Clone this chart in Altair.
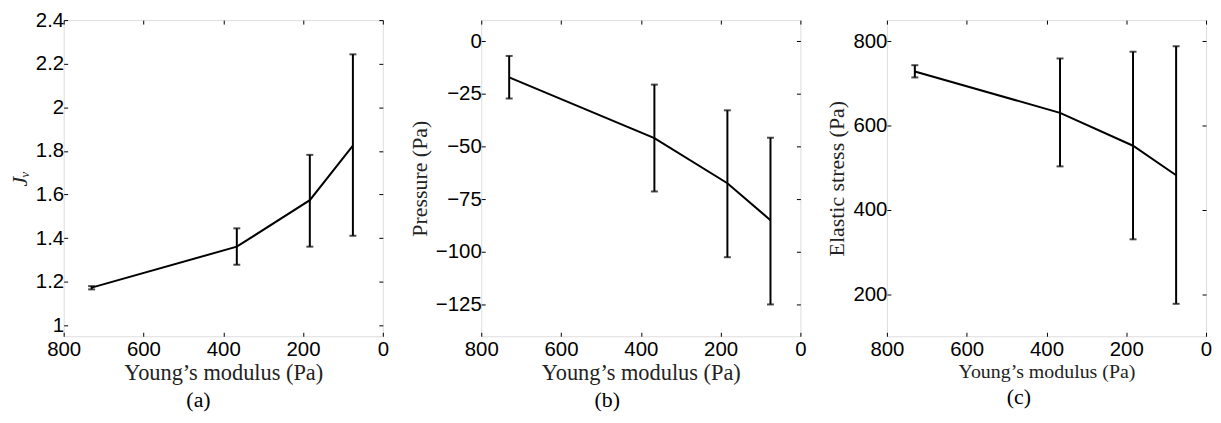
import altair as alt
import pandas as pd

# Young's modulus (Pa)
young = [730, 366, 183, 75]

# (a) J_V
jv_mean = [1.173, 1.361, 1.574, 1.824]
jv_lo = [1.165, 1.278, 1.361, 1.411]
jv_hi = [1.180, 1.445, 1.782, 2.243]

# (b) Pressure (Pa)
p_mean = [-17.2, -46.0, -67.4, -84.9]
p_lo = [-27.2, -71.3, -102.5, -124.9]
p_hi = [-7.0, -20.6, -32.8, -45.8]

# (c) Elastic stress (Pa)
s_mean = [728, 630, 552, 482]
s_lo = [714, 503, 330, 177]
s_hi = [743, 759, 775, 788]

x_ticks = [0, 200, 400, 600, 800]

LABEL_FONT = "Liberation Sans"
SERIF = "Liberation Serif"
TK = 4  # inward tick length
LFS = 20.5


def panel(mean, lo, hi, ydomain, yticks, ytitle, caption, xtitle_size=22.5, yfmt="d",
          ytitle_style="normal"):
    df = pd.DataFrame({"x": young, "m": mean, "lo": lo, "hi": hi})
    base = alt.Chart(df)
    xs = alt.Scale(domain=[0, 800], reverse=True, nice=False, zero=False)
    ys = alt.Scale(domain=ydomain, nice=False, zero=False)

    line = base.mark_line(color="black", strokeWidth=2).encode(
        x=alt.X("x:Q", scale=xs, axis=alt.Axis(
            orient="bottom", values=x_ticks, offset=-TK, tickSize=TK, domain=False,
            grid=False, labelPadding=3, labelFlush=False,
            title="Young\u2019s modulus (Pa)", format="d",
            titleFont=SERIF, titleFontSize=xtitle_size, titleFontWeight="normal",
            titlePadding=2, labelFont=LABEL_FONT, labelFontSize=LFS,
            labelColor="black", titleColor="#222", tickColor="black")),
        y=alt.Y("m:Q", scale=ys, axis=alt.Axis(
            orient="left", values=yticks, offset=-TK, tickSize=TK, domain=False,
            grid=False, labelPadding=0, labelFlush=False, title=ytitle, format=yfmt,
            titleFont=SERIF, titleFontSize=22, titleFontWeight="normal",
            titleFontStyle=ytitle_style, titlePadding=4,
            labelFont=LABEL_FONT, labelFontSize=LFS, labelColor="black",
            titleColor="#222", tickColor="black")),
    )
    rule = base.mark_rule(color="black", strokeWidth=2).encode(
        x=alt.X("x:Q", scale=xs, axis=alt.Axis(
            orient="top", values=x_ticks, offset=-TK, tickSize=TK, domain=False,
            grid=False, labels=False, title=None, tickColor="black")),
        y=alt.Y("lo:Q", scale=ys, axis=alt.Axis(
            orient="right", values=yticks, offset=-TK, tickSize=TK, domain=False,
            grid=False, labels=False, title=None, tickColor="black")),
        y2="hi:Q",
    )
    cap_lo = base.mark_tick(color="black", orient="horizontal", size=7, thickness=2).encode(
        x=alt.X("x:Q", scale=xs, axis=None),
        y=alt.Y("lo:Q", scale=ys, axis=None),
    )
    cap_hi = base.mark_tick(color="black", orient="horizontal", size=7, thickness=2).encode(
        x=alt.X("x:Q", scale=xs, axis=None),
        y=alt.Y("hi:Q", scale=ys, axis=None),
    )
    return alt.layer(line, rule, cap_lo, cap_hi).resolve_axis(
        x="independent", y="independent"
    ).properties(
        width=321, height=318,
        title=alt.TitleParams(caption, orient="bottom", anchor="middle", frame="bounds",
                              font=SERIF, fontSize=22, fontWeight="normal",
                              color="black", offset=6),
    )


pa = panel(jv_mean, jv_lo, jv_hi, [0.95, 2.4], [1, 1.2, 1.4, 1.6, 1.8, 2, 2.2, 2.4],
           "J\u1D65", "(a)", yfmt=".1~f", ytitle_style="italic")
pb = panel(p_mean, p_lo, p_hi, [-140, 10], [-125, -100, -75, -50, -25, 0],
           "Pressure (Pa)", "(b)")
pc = panel(s_mean, s_lo, s_hi, [100, 850], [200, 400, 600, 800],
           "Elastic stress (Pa)", "(c)", xtitle_size=20)

chart = alt.hconcat(pa, pb, pc, spacing=18).properties(
    padding={"left": 0, "top": 0, "right": 0, "bottom": 0}
).configure_view(
    stroke="black", strokeWidth=1.2
).configure(background="white")

chart.save("out.html", embed_options={"renderer": "svg", "actions": False})
